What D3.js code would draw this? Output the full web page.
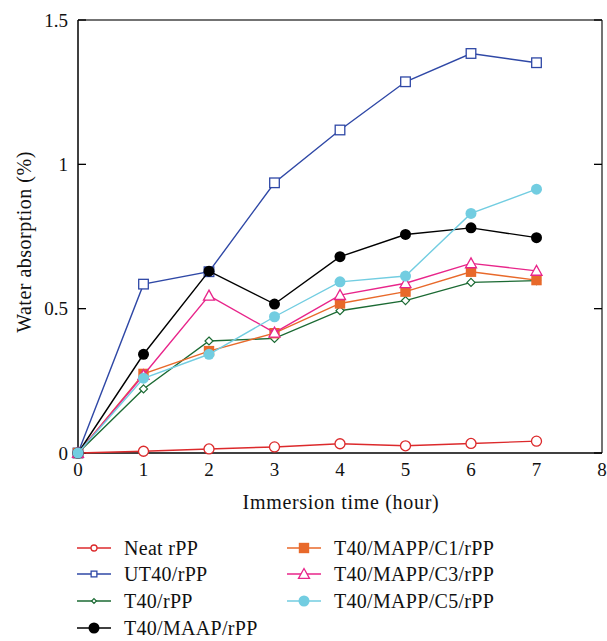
<!DOCTYPE html>
<html>
<head>
<meta charset="utf-8">
<script src="https://cdn.jsdelivr.net/npm/d3@7"></script>
<style>
  body { margin: 0; background: #fff; }
  text { font-family: "Liberation Serif", "DejaVu Serif", serif; fill: #111; }
</style>
</head>
<body>
<div id="chart"></div>
<script>
// immersion time (hour)
const hours = [0, 1, 2, 3, 4, 5, 6, 7];
const xTicks = [0, 1, 2, 3, 4, 5, 6, 7, 8];
const yTicks = [0, 0.5, 1, 1.5];
const yTickLabels = ["0", "0.5", "1", "1.5"];

// water absorption (%) per sample
const neatRPP   = [0, 0.006, 0.014, 0.021, 0.032, 0.025, 0.033, 0.041];
const ut40      = [0, 0.585, 0.628, 0.936, 1.119, 1.286, 1.384, 1.352];
const t40       = [0, 0.222, 0.388, 0.397, 0.493, 0.528, 0.591, 0.597];
const t40Maap   = [0, 0.342, 0.630, 0.516, 0.680, 0.757, 0.780, 0.746];
const t40C1     = [0, 0.274, 0.353, 0.415, 0.518, 0.559, 0.628, 0.599];
const t40C3     = [0, 0.270, 0.545, 0.417, 0.547, 0.588, 0.657, 0.631];
const t40C5     = [0, 0.259, 0.342, 0.472, 0.593, 0.613, 0.830, 0.914];

const seriesNames = ["Neat rPP", "UT40/rPP", "T40/rPP", "T40/MAAP/rPP",
                     "T40/MAPP/C1/rPP", "T40/MAPP/C3/rPP", "T40/MAPP/C5/rPP"];
const seriesValues = [neatRPP, ut40, t40, t40Maap, t40C1, t40C3, t40C5];

const colors = ["#dc2a2c", "#2f48a6", "#1b6a33", "#000000", "#e8692a", "#e8258a", "#72cde1"];
const markers = ["circleOpen", "squareOpen", "diamondOpen", "circleFill", "squareFill", "triangleOpen", "circleFill"];

const width = 607, height = 641;
const margin = { left: 78, right: 5, top: 20, bottom: 188 };

const svg = d3.select("#chart").append("svg")
    .attr("width", width)
    .attr("height", height);

const x = d3.scaleLinear().domain([0, 8]).range([margin.left, width - margin.right]);
const y = d3.scaleLinear().domain([0, 1.5]).range([height - margin.bottom, margin.top]);

const x0 = x(0), x1 = x(8), y0 = y(0), y1 = y(1.5);

// frame
svg.append("line").attr("x1", x0).attr("x2", x1).attr("y1", y1).attr("y2", y1)
    .attr("stroke", "#444").attr("stroke-width", 1.5);
svg.append("line").attr("x1", x1).attr("x2", x1).attr("y1", y1).attr("y2", y0)
    .attr("stroke", "#444").attr("stroke-width", 1.5);
svg.append("line").attr("x1", x0).attr("x2", x1).attr("y1", y0).attr("y2", y0)
    .attr("stroke", "#000").attr("stroke-width", 1.5);
svg.append("line").attr("x1", x0).attr("x2", x0).attr("y1", y1).attr("y2", y0)
    .attr("stroke", "#000").attr("stroke-width", 1.5);

// inward ticks on left and right
yTicks.forEach(t => {
    svg.append("line").attr("x1", x0).attr("x2", x0 + 8).attr("y1", y(t)).attr("y2", y(t))
        .attr("stroke", "#000").attr("stroke-width", 1.3);
    svg.append("line").attr("x1", x1).attr("x2", x1 - 8).attr("y1", y(t)).attr("y2", y(t))
        .attr("stroke", "#000").attr("stroke-width", 1.3);
});

svg.selectAll(".ytick")
    .data(yTicks)
    .enter()
    .append("text")
    .attr("class", "ytick")
    .attr("x", x0 - 10)
    .attr("y", d => y(d))
    .attr("dy", "0.35em")
    .attr("text-anchor", "end")
    .style("font-size", "19px")
    .text((d, i) => yTickLabels[i]);

svg.selectAll(".xtick")
    .data(xTicks)
    .enter()
    .append("text")
    .attr("class", "xtick")
    .attr("x", d => x(d))
    .attr("y", y0 + 23)
    .attr("text-anchor", "middle")
    .style("font-size", "19px")
    .text(d => d);

svg.append("text")
    .attr("x", 341)
    .attr("y", 509)
    .attr("text-anchor", "middle")
    .style("font-size", "20px")
    .style("letter-spacing", "0.7px")
    .text("Immersion time (hour)");

svg.append("text")
    .attr("transform", `translate(31, 242) rotate(-90)`)
    .attr("text-anchor", "middle")
    .style("font-size", "20px")
    .style("letter-spacing", "0.5px")
    .text("Water absorption (%)");

function drawMarker(g, type, color, cx, cy, scale) {
    const s = scale || 1;
    if (type === "circleOpen") {
        g.append("circle").attr("cx", cx).attr("cy", cy).attr("r", 5 * s)
            .attr("fill", "#fff").attr("stroke", color).attr("stroke-width", 1.3);
    } else if (type === "circleFill") {
        g.append("circle").attr("cx", cx).attr("cy", cy).attr("r", 5.5 * s)
            .attr("fill", color).attr("stroke", "none");
    } else if (type === "squareOpen") {
        const h = 4.8 * s;
        g.append("rect").attr("x", cx - h).attr("y", cy - h).attr("width", 2 * h).attr("height", 2 * h)
            .attr("fill", "#fff").attr("stroke", color).attr("stroke-width", 1.3);
    } else if (type === "squareFill") {
        const h = 5.2 * s;
        g.append("rect").attr("x", cx - h).attr("y", cy - h).attr("width", 2 * h).attr("height", 2 * h)
            .attr("fill", color).attr("stroke", "none");
    } else if (type === "diamondOpen") {
        const h = 4 * s;
        g.append("path").attr("d", `M${cx},${cy - h}L${cx + h},${cy}L${cx},${cy + h}L${cx - h},${cy}Z`)
            .attr("fill", "#fff").attr("stroke", color).attr("stroke-width", 1.2);
    } else if (type === "triangleOpen") {
        const h = 5.5 * s;
        g.append("path").attr("d", `M${cx},${cy - h}L${cx + h},${cy + h * 0.8}L${cx - h},${cy + h * 0.8}Z`)
            .attr("fill", "#fff").attr("stroke", color).attr("stroke-width", 1.3);
    }
}

const line = d3.line().x((d, i) => x(hours[i])).y(d => y(d));

// lines first, then markers, in order so later series sit on top
const order = [0, 1, 2, 4, 5, 3, 6];
order.forEach(k => {
    const g = svg.append("g");
    g.append("path")
        .datum(seriesValues[k])
        .attr("d", line)
        .attr("fill", "none")
        .attr("stroke", colors[k])
        .attr("stroke-width", 1.4);
    seriesValues[k].forEach((v, i) => drawMarker(g, markers[k], colors[k], x(hours[i]), y(v)));
});

// legend
const legendPos = [
    [77, 548], [77, 574], [77, 601], [77, 628],
    [287, 548], [287, 574], [287, 601]
];
const legendScale = [0.6, 0.6, 0.6, 1, 1, 1, 1];

const legend = svg.selectAll(".legend")
    .data(seriesNames)
    .enter()
    .append("g")
    .attr("class", "legend")
    .attr("transform", (d, i) => `translate(${legendPos[i][0]},${legendPos[i][1]})`);

legend.append("line")
    .attr("x1", 0).attr("x2", 34)
    .attr("y1", 0).attr("y2", 0)
    .attr("stroke", (d, i) => colors[i])
    .attr("stroke-width", 1.5);

legend.each(function (d, i) {
    drawMarker(d3.select(this), markers[i], colors[i], 17, 0, legendScale[i]);
});

legend.append("text")
    .attr("x", 47)
    .attr("y", 0)
    .attr("dy", "0.33em")
    .style("font-size", "20px")
    .style("letter-spacing", "0.3px")
    .text(d => d);
</script>
</body>
</html>
